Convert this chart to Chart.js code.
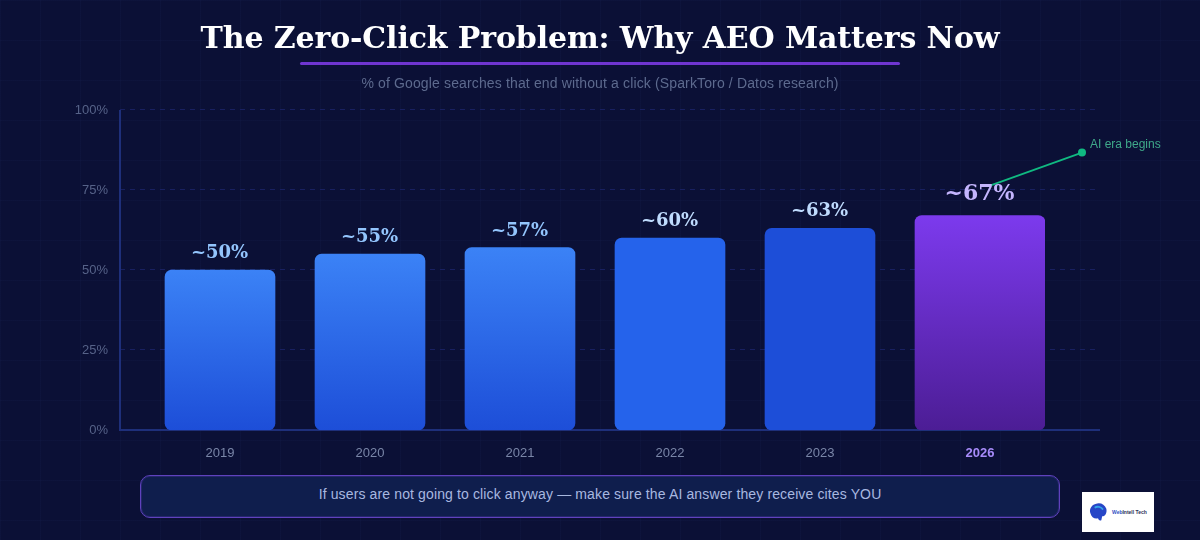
<!DOCTYPE html>
<html>
<head>
<meta charset="utf-8">
<style>
  html, body { margin: 0; padding: 0; }
  body {
    width: 1200px; height: 540px; overflow: hidden; position: relative;
    background-color: #0b1036;
    background-image:
      linear-gradient(rgba(70, 90, 170, 0.05) 1px, transparent 1px),
      linear-gradient(90deg, rgba(70, 90, 170, 0.05) 1px, transparent 1px);
    background-size: 40px 40px;
    font-family: "Liberation Sans", sans-serif;
  }
  #chart { position: absolute; left: 0; top: 0; }
  h1 {
    position: absolute; left: 0; top: 19px; width: 1200px; margin: 0; text-align: center;
    font: bold 30px/38px "DejaVu Serif", serif; letter-spacing: -0.12px; color: #fff;
  }
  .rule { position: absolute; left: 300px; top: 62px; width: 600px; height: 3px; background: #6f35d0; border-radius: 2px; }
  .sub {
    position: absolute; left: 0; top: 74px; width: 1200px; text-align: center;
    font-size: 14px; line-height: 18px; letter-spacing: 0.14px; color: #5d6a8e;
  }
  .note {
    position: absolute; left: 140px; top: 475px; width: 918px; height: 41px; line-height: 37px;
    background: #0f1e4d; border: 1px solid #5f42bd; border-radius: 10px;
    box-shadow: inset 0 0 0 1px rgba(90, 60, 180, 0.3);
    text-align: center; font-size: 14px; letter-spacing: 0.13px; color: #a8b8e0;
  }
  .logo { position: absolute; left: 1082px; top: 492px; width: 72px; height: 40px; background: #fff; }
  .logo svg { position: absolute; left: 6px; top: 10px; }
  .logo span {
    position: absolute; left: 30px; top: 16px; font-size: 5px; line-height: 8px;
    font-weight: bold; white-space: nowrap; color: #2b2f55;
  }
  .logo b { color: #2f4fc4; }
</style>
</head>
<body>
<canvas id="chart" width="1200" height="540"></canvas>
<h1>The Zero-Click Problem: Why AEO Matters Now</h1>
<div class="rule"></div>
<div class="sub">% of Google searches that end without a click (SparkToro / Datos research)</div>
<div class="note">If users are not going to click anyway — make sure the AI answer they receive cites YOU</div>
<div class="logo">
  <svg width="20" height="21" viewBox="0 0 24 22" preserveAspectRatio="none">
    <path d="M3 12C1 8 4 3 9 2c5-2 11 0 13 5 1 4-1 8-5 8l-1 4c-2 1-3 0-4-2-4 1-8-1-9-5z" fill="#2746c7"/>
    <path d="M8 6c3-2 8-1 10 2" stroke="#35a5e8" stroke-width="2" fill="none"/>
  </svg>
  <span><b>Web</b>Intell Tech</span>
</div>
<script src="https://cdn.jsdelivr.net/npm/chart.js@4"></script>
<script>
const years = ['2019', '2020', '2021', '2022', '2023', '2026'];
const searchShare = [50, 55, 57, 60, 63, 67];
const valueLabels = ['~50%', '~55%', '~57%', '~60%', '~63%', '~67%'];
const topColors = ['#3b82f6', '#3b82f6', '#3b82f6', '#2563eb', '#1d4ed8', '#7c3aed'];
const bottomColors = ['#1d4ed8', '#1d4ed8', '#1d4ed8', '#2563eb', '#1d4ed8', '#4c1d95'];
const labelColors = ['#93c5fd', '#93c5fd', '#93c5fd', '#bfdbfe', '#bfdbfe', '#c4b5fd'];
const yTicks = [0, 25, 50, 75, 100];

const LAST = years.length - 1;
const AXIS_LEFT = 120;
const AXIS_RIGHT = 1100;

// The 2026 bar sits a little apart from the others and is wider
const frame = {
  id: 'frame',
  beforeDatasetsDraw: function (chart) {
    const ctx = chart.ctx;
    const y = chart.scales.y;
    ctx.save();
    ctx.strokeStyle = '#182060';
    ctx.lineWidth = 1;
    ctx.setLineDash([5, 5]);
    yTicks.slice(1).forEach(function (t) {
      const py = Math.round(y.getPixelForValue(t)) - 0.5;
      ctx.beginPath();
      ctx.moveTo(AXIS_LEFT, py);
      ctx.lineTo(AXIS_RIGHT, py);
      ctx.stroke();
    });
    ctx.setLineDash([]);
    ctx.strokeStyle = '#1e2f7a';
    ctx.lineWidth = 2;
    ctx.beginPath();
    ctx.moveTo(AXIS_LEFT, y.getPixelForValue(100));
    ctx.lineTo(AXIS_LEFT, y.getPixelForValue(0));
    ctx.lineTo(AXIS_RIGHT, y.getPixelForValue(0));
    ctx.stroke();
    ctx.restore();
  },
  afterDatasetsUpdate: function (chart) {
    const bar = chart.getDatasetMeta(0).data[LAST];
    bar.x = chart.scales.x.getPixelForTick(LAST);
    bar.width = 130;
  },
  afterDatasetsDraw: function (chart) {
    const ctx = chart.ctx;
    const bars = chart.getDatasetMeta(0).data;
    const last = bars[LAST];
    const startX = last.x + 10, startY = last.y - 30;
    const endX = last.x + 102, endY = last.y - 63;

    ctx.save();
    ctx.strokeStyle = '#10b981';
    ctx.lineWidth = 1.8;
    ctx.beginPath();
    ctx.moveTo(startX, startY);
    ctx.lineTo(endX, endY);
    ctx.stroke();
    ctx.fillStyle = '#10b981';
    ctx.beginPath();
    ctx.arc(endX, endY, 4, 0, Math.PI * 2);
    ctx.fill();
    ctx.fillStyle = '#3fa98a';
    ctx.font = '12px "Liberation Sans"';
    ctx.textAlign = 'left';
    ctx.textBaseline = 'middle';
    ctx.fillText('AI era begins', endX + 8, endY - 8);

    ctx.textAlign = 'center';
    ctx.textBaseline = 'alphabetic';
    bars.forEach(function (bar, i) {
      ctx.fillStyle = labelColors[i];
      ctx.font = (i === LAST ? 'bold 22px' : 'bold 18px') + ' "DejaVu Serif"';
      ctx.fillText(valueLabels[i], bar.x - 0.5, bar.y - (i === LAST ? 16 : 12));
    });
    ctx.restore();
  }
};

function barFill(context) {
  const i = context.dataIndex;
  if (i === undefined) return topColors[0];
  const y = context.chart.scales.y;
  const top = y.getPixelForValue(searchShare[i]);
  const base = y.getPixelForValue(0);
  // scales have no size yet on the first pass
  if (!isFinite(top) || !isFinite(base)) return topColors[i];
  const g = context.chart.ctx.createLinearGradient(0, top, 0, base);
  g.addColorStop(0, topColors[i]);
  g.addColorStop(1, bottomColors[i]);
  return g;
}

new Chart(document.getElementById('chart').getContext('2d'), {
  type: 'bar',
  data: {
    labels: years,
    datasets: [{
      data: searchShare,
      backgroundColor: barFill,
      borderRadius: 7,
      borderSkipped: false,
      barThickness: 110
    }]
  },
  plugins: [frame],
  options: {
    responsive: false,
    animation: false,
    layout: { padding: { top: 110, right: 155, bottom: 0, left: 0 } },
    plugins: { legend: { display: false }, title: { display: false }, tooltip: { enabled: false } },
    scales: {
      x: {
        grid: { display: false, drawTicks: false },
        border: { display: false },
        afterFit: function (scale) { scale.height = 110; },
        afterBuildTicks: function (scale) {
          // push the 2026 tick (and its bar) off the regular spacing
          scale.ticks[LAST].value = LAST + 1 / 15;
        },
        ticks: {
          autoSkip: false,
          maxRotation: 0,
          padding: 16,
          callback: function (value, index) { return years[index]; },
          color: function (c) { return c.index === LAST ? '#a78bfa' : '#7a86a8'; },
          font: function (c) {
            return { family: 'Liberation Sans', size: 13, weight: c.index === LAST ? 'bold' : 'normal' };
          }
        }
      },
      y: {
        min: 0,
        max: 100,
        grid: { display: false, drawTicks: false },
        border: { display: false },
        afterFit: function (scale) { scale.width = 145; },
        afterBuildTicks: function (scale) {
          scale.ticks = yTicks.map(function (v) { return { value: v }; });
        },
        ticks: {
          padding: 37,
          color: '#566288',
          font: { family: 'Liberation Sans', size: 13 },
          callback: function (value) { return value + '%'; }
        }
      }
    }
  }
});
</script>
</body>
</html>
